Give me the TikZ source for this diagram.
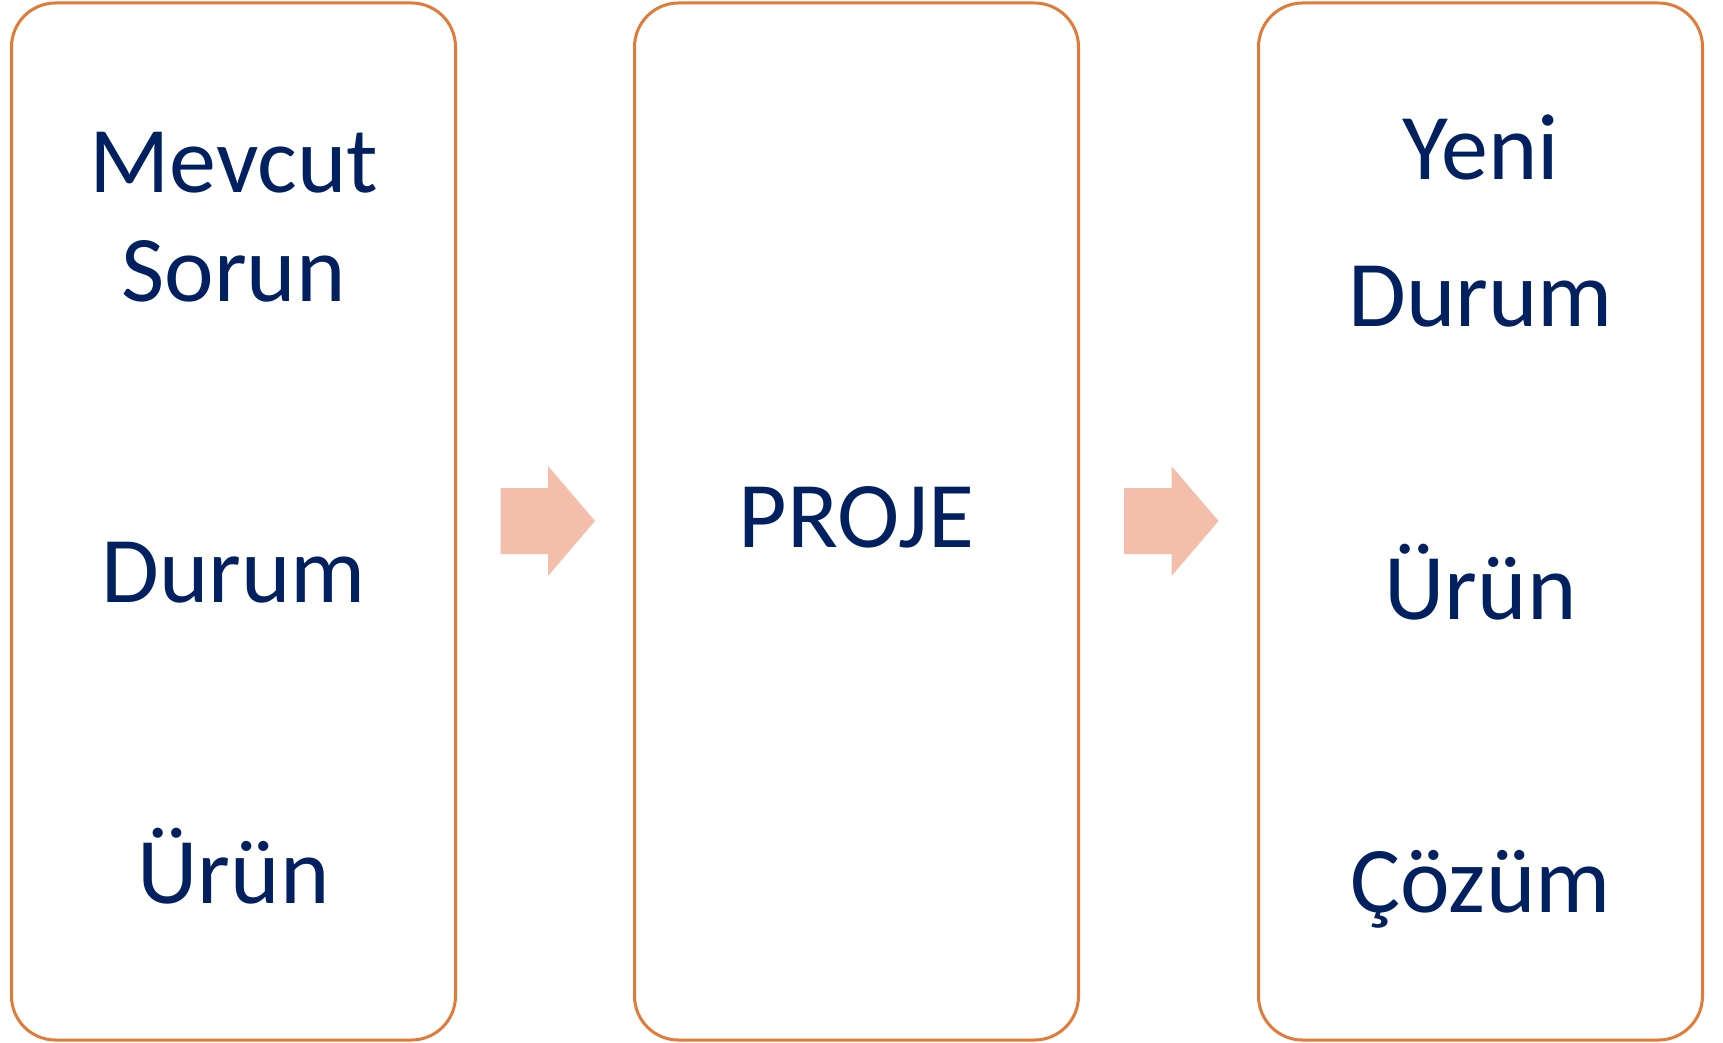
\documentclass[tikz,border=0pt]{standalone}
\usepackage{fontspec}
\setmainfont{Carlito}
\definecolor{boxorange}{HTML}{E07B39}
\definecolor{arrowpink}{HTML}{F4BFAA}
\definecolor{navy}{HTML}{002060}
\begin{document}
\begin{tikzpicture}[x=1pt,y=-1pt,
  panel/.style={draw=boxorange,line width=3pt,rounded corners=44pt,minimum width=444pt,minimum height=1037pt,inner sep=0pt},
  lbl/.style={text=navy,anchor=base,inner sep=0pt,font=\fontsize{94}{113}\selectfont},
  chevron/.style={fill=arrowpink,draw=none}]
\useasboundingbox (0,0) rectangle (1723,1043);
\node[panel] (b1) at (233.5,521.5) {};
\node[panel] (b2) at (856.5,521.5) {};
\node[panel] (b3) at (1480.5,521.5) {};
\fill[chevron] (500.5,488) -- (548,488) -- (548,466) -- (595,521) -- (548,576) -- (548,554) -- (500.5,554) -- cycle;
\fill[chevron] (1124,488) -- (1171.5,488) -- (1171.5,466) -- (1218.5,521) -- (1171.5,576) -- (1171.5,554) -- (1124,554) -- cycle;
\node[lbl] (t1) at (233.5,193) {Mevcut};
\node[lbl] (t2) at (233.5,301) {Sorun};
\node[lbl] (t3) at (233.5,602) {Durum};
\node[lbl] (t4) at (233.5,903) {Ürün};
\node[lbl] (t5) at (856.5,547) {PROJE};
\node[lbl] (t6) at (1480.5,179) {Yeni};
\node[lbl] (t7) at (1480.5,326) {Durum};
\node[lbl] (t8) at (1480.5,619) {Ürün};
\node[lbl] (t9) at (1480.5,912) {Çözüm};
\end{tikzpicture}
\end{document}
